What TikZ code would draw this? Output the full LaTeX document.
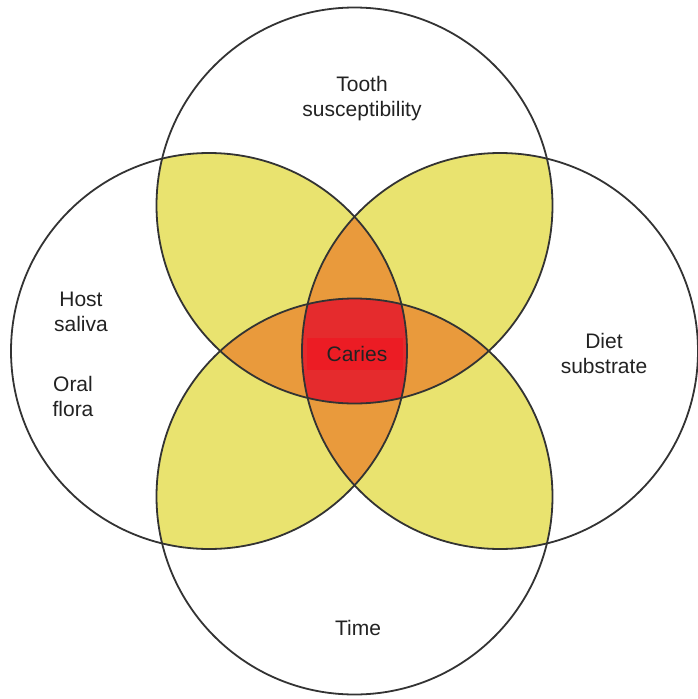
\documentclass[tikz,border=0pt]{standalone}
\usepackage{fontspec}
\setmainfont{Liberation Sans}
\definecolor{vyellow}{HTML}{E9E36F}
\definecolor{vorange}{HTML}{E99A3C}
\definecolor{vred}{HTML}{E52B2D}
\definecolor{vredbox}{HTML}{EC1C24}
\definecolor{vline}{HTML}{333333}
\definecolor{vtext}{HTML}{222222}
\begin{document}
\begin{tikzpicture}[x=1pt,y=-1pt,
  lbl/.style={font=\fontsize{21}{25}\selectfont, align=center, text=vtext, inner sep=0pt},
  ring/.style={draw=vline, line width=1.8pt}]
\useasboundingbox (0,0) rectangle (697,699);
\def\R{198pt}
\coordinate (T) at (354.5,205.5);
\coordinate (B) at (354.5,496.5);
\coordinate (L) at (209,351);
\coordinate (Rt) at (500,351);
% yellow: adjacent pairs
\begin{scope}
  \clip (T) circle[radius=\R];
  \fill[vyellow] (L) circle[radius=\R];
  \fill[vyellow] (Rt) circle[radius=\R];
\end{scope}
\begin{scope}
  \clip (B) circle[radius=\R];
  \fill[vyellow] (L) circle[radius=\R];
  \fill[vyellow] (Rt) circle[radius=\R];
\end{scope}
% orange: triples
\begin{scope}
  \clip (L) circle[radius=\R];
  \clip (Rt) circle[radius=\R];
  \fill[vorange] (T) circle[radius=\R];
  \fill[vorange] (B) circle[radius=\R];
\end{scope}
\begin{scope}
  \clip (T) circle[radius=\R];
  \clip (B) circle[radius=\R];
  \fill[vorange] (L) circle[radius=\R];
  \fill[vorange] (Rt) circle[radius=\R];
\end{scope}
% red: all four
\begin{scope}
  \clip (T) circle[radius=\R];
  \clip (B) circle[radius=\R];
  \clip (L) circle[radius=\R];
  \fill[vred] (Rt) circle[radius=\R];
\end{scope}
% outlines
\draw[ring] (T) circle[radius=\R];
\draw[ring] (B) circle[radius=\R];
\draw[ring] (L) circle[radius=\R];
\draw[ring] (Rt) circle[radius=\R];
% labels
\node[lbl] (tooth) at (362,99) {Tooth\\susceptibility};
\node[lbl] (host) at (81,312) {Host\\saliva};
\node[lbl] (oral) at (73,396) {Oral\\flora};
\node[lbl] (diet) at (604,353) {Diet\\substrate};
\node[fill=vredbox, minimum width=96pt, minimum height=32pt, inner sep=0pt] (cariesbox) at (355,354) {};
\node[lbl] (caries) at (357,354) {Caries};
\node[lbl] (time) at (358,628) {Time};
\end{tikzpicture}
\end{document}
